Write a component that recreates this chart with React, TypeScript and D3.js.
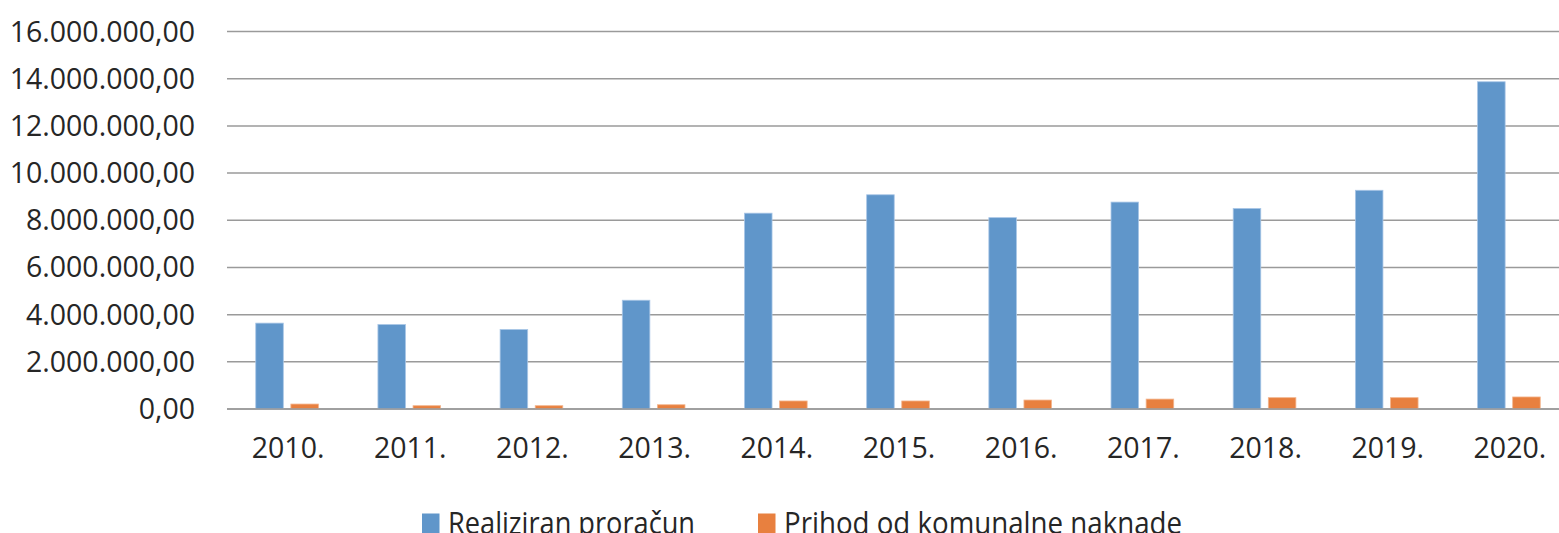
import * as d3 from 'd3';

const years = ['2010.', '2011.', '2012.', '2013.', '2014.', '2015.', '2016.', '2017.', '2018.', '2019.', '2020.'];
const seriesNames = ['Realiziran proračun', 'Prihod od komunalne naknade'];
const realiziran = [3640000, 3580000, 3370000, 4610000, 8300000, 9080000, 8110000, 8770000, 8500000, 9270000, 13870000];
const prihod = [210000, 140000, 140000, 180000, 340000, 340000, 380000, 420000, 480000, 480000, 510000];
const yTicks = [0, 2000000, 4000000, 6000000, 8000000, 10000000, 12000000, 14000000, 16000000];
const colors = ['#6096ca', '#e8803f'];
const legendX = [422, 758];
const legendWidth = [247, 398];

const W = 1559;
const H = 533;
const FONT = '"Open Sans", sans-serif';
const FS = 28.5;

const fmt = (v: number) => {
  const s = Math.round(v).toString().replace(/\B(?=(\d{3})+(?!\d))/g, '.');
  return `${s},00`;
};

export default function App() {
  const x0 = d3.scaleBand<string>().domain(years).range([226, 1570]).paddingInner(0.487).paddingOuter(0.2435);
  const x1 = d3.scaleBand<string>().domain(seriesNames).range([0, x0.bandwidth()]).paddingInner(0.215);
  const y = d3.scaleLinear().domain([0, 16000000]).range([409, 31.5]);
  const values = [realiziran, prihod];

  return (
    <svg width={W} height={H} style={{ position: 'absolute', left: 0, top: 0, background: '#fff' }}>
      {yTicks.map((t) => (
        <g key={t}>
          <line x1={227} x2={W} y1={y(t)} y2={y(t)} stroke="#9a9a9a" strokeWidth={1.5} />
          <text x={195} y={y(t) + 10} textAnchor="end" fontFamily={FONT} fontSize={FS} fill="#262626">
            {fmt(t)}
          </text>
        </g>
      ))}
      {years.map((yr, i) => (
        <g key={yr} transform={`translate(${x0(yr)},0)`}>
          {seriesNames.map((s, j) => (
            <rect
              key={s}
              x={x1(s)}
              y={y(values[j][i])}
              width={x1.bandwidth()}
              height={y(0) - y(values[j][i])}
              fill={colors[j]}
              stroke={j === 0 ? '#a9c6e6' : '#f3b48c'}
              strokeWidth={0.8}
            />
          ))}
        </g>
      ))}
      <line x1={227} x2={W} y1={y(0)} y2={y(0)} stroke="#9a9a9a" strokeWidth={1.5} />
      {years.map((yr) => (
        <text
          key={yr}
          x={(x0(yr) ?? 0) + x0.bandwidth() / 2 + 1}
          y={458}
          textAnchor="middle"
          fontFamily={FONT}
          fontSize={FS}
          fill="#262626"
        >
          {yr}
        </text>
      ))}
      {seriesNames.map((s, j) => (
        <g key={s}>
          <rect x={legendX[j]} y={513.5} width={17.5} height={20} fill={colors[j]} />
          <text
            x={legendX[j] + 26}
            y={534}
            fontFamily={FONT}
            fontSize={31}
            fill="#262626"
            textLength={legendWidth[j]}
            lengthAdjust="spacingAndGlyphs"
          >
            {s}
          </text>
        </g>
      ))}
    </svg>
  );
}
